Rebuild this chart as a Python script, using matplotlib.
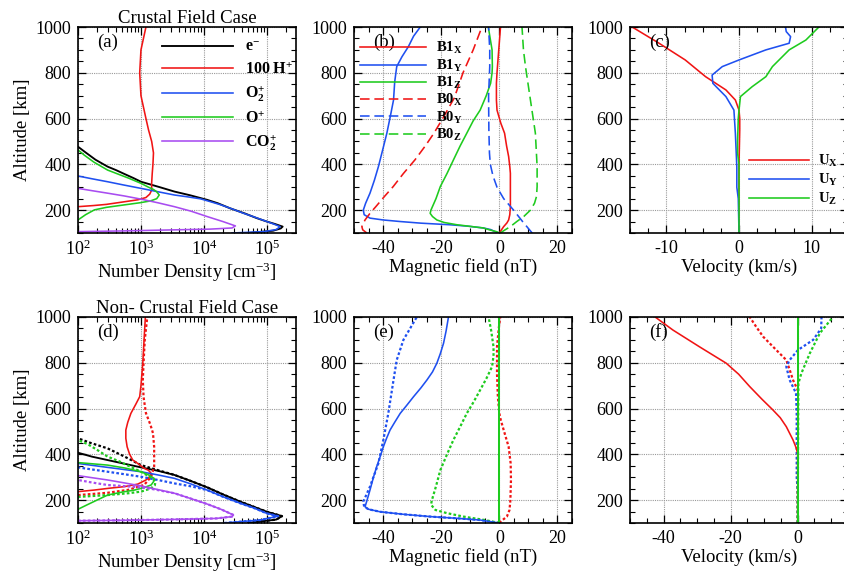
import matplotlib.pyplot as plt
from matplotlib.ticker import MultipleLocator

plt.rcParams['font.family'] = ['Liberation Serif', 'DejaVu Serif']
plt.rcParams['mathtext.fontset'] = 'custom'
plt.rcParams['mathtext.rm'] = 'Liberation Serif'
plt.rcParams['mathtext.it'] = 'Liberation Serif:italic'
plt.rcParams['mathtext.bf'] = 'Liberation Serif:bold'
plt.rcParams['axes.unicode_minus'] = False

# ---------------- (a) crustal field, densities [cm^-3] ----------------
ne_a_alt = [100, 110, 120, 128, 140, 150, 165, 185, 208, 230, 245, 265, 281, 300, 324, 340, 360, 375, 390, 420, 450, 477]
ne_a = [50000, 126000, 166000, 178000, 132000, 100000, 69000, 45000, 26000, 16600, 11200, 6000, 3400, 2000, 1000, 760, 525, 400, 295, 190, 135, 100]
h_a_alt = [215, 220, 225, 235, 245, 255, 270, 288, 320, 360, 400, 450, 500, 550, 600, 700, 800, 900, 1000]
h_a = [100, 178, 282, 501, 891, 1200, 1380, 1480, 1480, 1510, 1550, 1580, 1480, 1320, 1200, 1000, 955, 1000, 1200]
o2_a_alt = [100, 106, 115, 128, 140, 150, 170, 186, 205, 223, 237, 249, 258, 266, 281, 295, 310, 324, 337, 349]
o2_a = [28000, 89000, 141000, 162000, 126000, 100000, 63000, 42700, 28200, 18600, 12600, 8900, 5500, 3400, 1800, 1000, 525, 295, 166, 100]
op_a_alt = [157, 180, 201, 212, 223, 232, 240, 250, 266, 280, 290, 300, 317, 340, 375, 410, 440, 463]
op_a = [100, 132, 182, 282, 550, 955, 1410, 1780, 1950, 1780, 1585, 1320, 1000, 631, 295, 178, 126, 100]
co2_a_alt = [106, 109, 113, 117, 122, 131, 150, 172, 195, 215, 232, 248, 262, 274, 285, 295]
co2_a = [100, 500, 2500, 12600, 28000, 31600, 20000, 11200, 6300, 3400, 1860, 1000, 540, 295, 166, 100]

# ---------------- (d) non-crustal, solid and dotted ----------------
ne_d_alt = [100, 115, 130, 149, 170, 193, 225, 256, 285, 310, 328, 343, 360, 375, 390, 407]
ne_d = [50000, 141000, 174000, 100000, 63000, 38000, 20000, 11200, 6000, 3400, 1860, 1000, 525, 295, 166, 100]
ne_d2_alt = [100, 115, 130, 149, 170, 193, 225, 256, 285, 310, 330, 353, 390, 426, 450, 470]
ne_d2 = [50000, 141000, 174000, 100000, 63000, 38000, 20000, 11200, 6000, 3400, 1900, 1000, 550, 295, 158, 100]
h_d_alt = [237, 244, 252, 259, 270, 288, 300, 317, 330, 339, 360, 375, 400, 433, 470, 506, 540, 579, 620, 652, 700, 800, 900, 1000]
h_d = [100, 182, 316, 550, 891, 1200, 1350, 1450, 1320, 1120, 891, 741, 661, 603, 575, 575, 617, 692, 832, 955, 1000, 1070, 1120, 1175]
h_d2_alt = [222, 232, 245, 266, 302, 346, 375, 433, 493, 530, 580, 650, 725, 800, 900, 1000]
h_d2 = [100, 295, 631, 1120, 1450, 1620, 1620, 1620, 1550, 1410, 1200, 1100, 1070, 1100, 1150, 1260]
o2_d_alt = [100, 113, 130, 142, 165, 186, 215, 244, 270, 295, 310, 324, 343, 360]
o2_d = [21000, 79000, 151000, 100000, 63000, 38000, 20000, 11200, 6300, 3400, 1860, 1000, 295, 100]
o2_d2_alt = [100, 113, 130, 142, 165, 186, 215, 244, 260, 273, 288, 302, 313, 324, 334, 343]
o2_d2 = [21000, 79000, 151000, 100000, 63000, 38000, 20000, 11200, 6300, 3400, 1860, 1000, 550, 295, 166, 100]
op_d_alt = [160, 180, 200, 222, 235, 244, 255, 266, 280, 295, 310, 324, 340, 353, 364]
op_d = [100, 141, 200, 295, 500, 794, 1120, 1450, 1580, 1620, 1320, 1000, 562, 295, 100]
op_d2_alt = [214, 222, 230, 237, 250, 265, 280, 288, 300, 324, 350, 370, 390, 420, 445, 462]
op_d2 = [100, 295, 631, 1000, 1410, 1660, 1700, 1620, 1410, 1000, 631, 447, 295, 200, 141, 100]
co2_d_alt = [110, 112, 116, 120, 128, 135, 160, 183, 206, 230, 246, 262, 275, 288, 298, 307]
co2_d = [100, 631, 4000, 15800, 28000, 29500, 18600, 11200, 6300, 3400, 1860, 1000, 550, 295, 166, 100]
co2_d2_alt = [110, 112, 116, 120, 128, 135, 160, 183, 206, 230, 250, 258, 266, 277, 288]
co2_d2 = [100, 631, 4000, 15800, 28000, 29500, 18600, 11200, 6300, 3400, 1410, 794, 295, 166, 100]

# ---------------- (b) magnetic field [nT] ----------------
b1x_alt = [100, 106, 128, 144, 157, 180, 215, 245, 300, 361, 390, 434, 480, 536, 580, 637, 681, 754, 800, 900, 1000]
b1x = [0, 0.3, 1.5, 2.6, 3.2, 3.6, 3.8, 3.8, 3.8, 3.8, 3.6, 3.2, 2.5, 1.8, 0.5, -0.8, -1.0, -1.0, -0.8, -0.2, 0.4]
b1y_alt = [100, 106, 115, 122, 130, 136, 143, 150, 157, 165, 180, 200, 230, 274, 330, 390, 460, 536, 610, 681, 760, 827, 870, 914, 960, 1000]
b1y = [0, -1.5, -3, -5.5, -11, -17, -27, -34, -40, -44.5, -46.5, -46.8, -46, -44.5, -43, -41.6, -40.2, -38.7, -37.5, -36.4, -36, -35.3, -33.5, -31.3, -29.5, -27.2]
b1z_alt = [100, 106, 114, 122, 136, 146, 157, 172, 186, 201, 250, 303, 360, 419, 480, 536, 590, 637, 700, 754, 800, 827, 900, 1000]
b1z = [0, -1, -3.5, -5.5, -14.6, -19, -21.5, -23, -23.8, -23.5, -21.8, -20.3, -18, -15.8, -13.5, -11.2, -9, -6.6, -4.5, -3, -2.5, -2.4, -2.5, -3.8]
b0x_alt = [100, 114, 128, 157, 186, 215, 260, 303, 360, 420, 480, 536, 600, 690, 800, 900, 1000]
b0x = [-45.6, -47, -47.3, -46.2, -44.5, -42.5, -39.5, -36.5, -33, -29, -25.5, -22.5, -19.5, -15.5, -12.5, -9, -6]
b0y_alt = [100, 150, 200, 250, 300, 350, 400, 450, 550, 700, 827, 900, 1000]
b0y = [11.3, 8, 4.9, 1.5, -0.8, -2.2, -3.1, -3.4, -3.6, -3.7, -3.3, -3.3, -3.7]
b0z_alt = [100, 110, 128, 150, 172, 200, 230, 260, 303, 390, 536, 681, 827, 900, 1000]
b0z = [0.3, 1.5, 3.8, 6, 8.4, 10.7, 12.1, 12.8, 13, 13, 12.4, 10.7, 9, 8.3, 7.8]

# ---------------- (c) velocity [km/s] ----------------
ux_c_alt = [100, 400, 550, 600, 637, 681, 725, 783, 856, 929, 1000]
ux_c = [0, 0, 0.1, 0.1, 0, -0.5, -1.8, -4.6, -7.4, -11, -14.7]
uy_c_alt = [100, 250, 300, 390, 536, 637, 696, 754, 790, 827, 856, 900, 929, 958, 980, 1000]
uy_c = [0, -0.1, -0.3, -0.3, -0.5, -0.7, -1.8, -3.6, -3.7, -2.3, 0, 3.7, 6.9, 7.1, 6.5, 6.4]
uz_c_alt = [100, 400, 450, 500, 600, 637, 696, 739, 783, 827, 900, 943, 1000]
uz_c = [0, 0, -0.2, -0.2, -0.1, 0, 0.2, 1.8, 3.7, 4.6, 6.9, 9.2, 11]

# ---------------- (e) magnetic field, non-crustal ----------------
b1x_e_alt = [100, 1000]
b1x_e = [0, 0]
b1z_e_alt = [100, 1000]
b1z_e = [0, 0]
b1y_e_alt = [100, 106, 113, 120, 128, 138, 149, 160, 171, 200, 244, 300, 346, 390, 433, 470, 506, 540, 579, 615, 652, 690, 725, 760, 798, 840, 885, 940, 1000]
b1y_e = [0, -3, -6.6, -14, -23.8, -33, -41, -45, -46.2, -45.5, -44.5, -43.3, -42.2, -41, -39.9, -38.8, -37.6, -36, -34.1, -31.8, -29.5, -27, -24.9, -23, -21.5, -20.3, -19.2, -18.3, -17.5]
b0x_e_alt = [100, 113, 128, 157, 200, 288, 360, 433, 506, 550, 579, 650, 750, 870, 950, 1000]
b0x_e = [0, 1.1, 2.6, 3.5, 3.8, 4.0, 3.9, 3.2, 1.5, 0.5, 0, -0.5, -0.8, -0.8, -0.2, 0.3]
b0y_e_alt = [100, 106, 113, 120, 128, 138, 149, 160, 171, 193, 259, 361, 463, 579, 725, 812, 900, 1000]
b0y_e = [0, -3, -6.6, -14, -23.8, -33, -41, -45, -46.5, -46.8, -44.5, -41.6, -39.9, -38.2, -36.4, -35.3, -33, -28.4]
b0z_e_alt = [100, 113, 128, 143, 157, 180, 200, 260, 331, 400, 463, 520, 579, 630, 681, 730, 783, 830, 870, 940, 1000]
b0z_e = [0, -5, -12.3, -18, -22, -23.5, -23.2, -21.8, -20.3, -18, -15.8, -13.5, -11.2, -8.8, -6.6, -4.5, -2.5, -2, -2, -2.8, -3.7]

# ---------------- (f) velocity, non-crustal ----------------
ux_f_alt = [100, 404, 430, 463, 521, 560, 594, 640, 696, 750, 798, 870, 943, 1000]
ux_f = [0, 0, -0.5, -1.4, -3.4, -5.2, -7.4, -10.6, -14.3, -17.6, -21.3, -29.3, -37.2, -42.5]
uy_f_alt = [100, 1000]
uy_f = [0, 0]
uz_f_alt = [100, 1000]
uz_f = [0, 0]
ux_f2_alt = [100, 681, 725, 770, 812, 856, 914, 960, 1000]
ux_f2 = [0, 0, -1.4, -2.4, -3.4, -6.4, -10.3, -12.5, -14.3]
uy_f2_alt = [100, 240, 300, 579, 667, 725, 783, 812, 856, 900, 950, 1000]
uy_f2 = [0, 0, -0.3, -0.3, -0.5, -2.4, -3.4, -2.4, 0.1, 4.6, 7, 7.1]
uz_f2_alt = [100, 710, 754, 841, 929, 1000]
uz_f2 = [0, 0.2, 1.1, 3.6, 6.6, 10.5]

RED = '#f01414'
BLUE = '#1f50f0'
GREEN = '#1ecb1e'
PURPLE = '#a84cf0'
LW = 1.15
DASH = (0, (6, 3))
DOT = (0, (1.2, 1.0))
DOT_LW = 1.6
FS = 13.5

W, H = 845, 573
fig = plt.figure(figsize=(W / 100, H / 100), dpi=100)


def make_axes(left_px, top_px):
    return fig.add_axes([left_px / W, 1 - (top_px + 206) / H, 218 / W, 206 / H])


def style(ax, panel, xlabel, ylabel=None):
    ax.set_ylim(100, 1000)
    ax.yaxis.set_major_locator(MultipleLocator(200))
    ax.yaxis.set_minor_locator(MultipleLocator(50))
    ax.tick_params(which='both', direction='in', top=True, right=True, labelsize=13, pad=5)
    ax.tick_params(which='major', length=6, width=0.9)
    ax.tick_params(which='minor', length=3.5, width=0.8)
    ax.grid(True, which='major', color='#9a9a9a', linestyle=(0, (1, 1)), linewidth=0.8)
    for s in ax.spines.values():
        s.set_linewidth(1.2)
    ax.set_xlabel(xlabel, fontsize=FS, labelpad=1)
    if ylabel:
        ax.set_ylabel(ylabel, fontsize=FS, labelpad=3)
    ax.text(0.087, 0.925, panel, transform=ax.transAxes, fontsize=FS, va='center', ha='left')


ax_a = make_axes(78, 27)
ax_b = make_axes(354, 27)
ax_c = make_axes(630, 27)
ax_d = make_axes(78, 317)
ax_e = make_axes(354, 317)
ax_f = make_axes(630, 317)

# (a)
ax_a.plot(ne_a, ne_a_alt, color='black', lw=LW + 0.2, label=r'$\mathbf{e^{-}}$')
ax_a.plot(h_a, h_a_alt, color=RED, lw=LW, label=r'$\mathbf{100\ H^{+}}$')
ax_a.plot(o2_a, o2_a_alt, color=BLUE, lw=LW, label=r'$\mathbf{O_2^{+}}$')
ax_a.plot(op_a, op_a_alt, color=GREEN, lw=LW, label=r'$\mathbf{O^{+}}$')
ax_a.plot(co2_a, co2_a_alt, color=PURPLE, lw=LW, label=r'$\mathbf{CO_2^{+}}$')
ax_a.set_xscale('log')
ax_a.set_xlim(100, 2.9e5)
style(ax_a, '(a)', r'Number Density [cm$^{-3}$]', 'Altitude [km]')
ax_a.set_title('Crustal Field Case', fontsize=FS, pad=3)
ax_a.legend(loc='upper left', bbox_to_anchor=(0.385, 0.94), frameon=False, borderpad=0, borderaxespad=0,
            handlelength=4.45, handletextpad=0.78, labelspacing=0.36, prop={'size': 11.5, 'weight': 'bold'})

# (d)
for vals, alt, vals2, alt2, col, lw in [
        (ne_d, ne_d_alt, ne_d2, ne_d2_alt, 'black', LW + 0.2),
        (h_d, h_d_alt, h_d2, h_d2_alt, RED, LW),
        (o2_d, o2_d_alt, o2_d2, o2_d2_alt, BLUE, LW),
        (op_d, op_d_alt, op_d2, op_d2_alt, GREEN, LW),
        (co2_d, co2_d_alt, co2_d2, co2_d2_alt, PURPLE, LW)]:
    ax_d.plot(vals2, alt2, color=col, lw=DOT_LW, linestyle=DOT)
    ax_d.plot(vals, alt, color=col, lw=lw)
ax_d.set_xscale('log')
ax_d.set_xlim(100, 2.9e5)
style(ax_d, '(d)', r'Number Density [cm$^{-3}$]', 'Altitude [km]')
ax_d.set_title('Non- Crustal Field Case', fontsize=FS, pad=3)

# (b)
ax_b.plot(b1x, b1x_alt, color=RED, lw=LW, label=r'$\mathbf{B1_X}$')
ax_b.plot(b1y, b1y_alt, color=BLUE, lw=LW, label=r'$\mathbf{B1_Y}$')
ax_b.plot(b1z, b1z_alt, color=GREEN, lw=LW, label=r'$\mathbf{B1_Z}$')
ax_b.plot(b0x, b0x_alt, color=RED, lw=LW, linestyle=DASH, label=r'$\mathbf{B0_X}$')
ax_b.plot(b0y, b0y_alt, color=BLUE, lw=LW, linestyle=DASH, label=r'$\mathbf{B0_Y}$')
ax_b.plot(b0z, b0z_alt, color=GREEN, lw=LW, linestyle=DASH, label=r'$\mathbf{B0_Z}$')
ax_b.set_xlim(-50, 25)
ax_b.xaxis.set_major_locator(MultipleLocator(20))
ax_b.xaxis.set_minor_locator(MultipleLocator(5))
style(ax_b, '(b)', 'Magnetic field (nT)')
ax_b.legend(loc='upper left', bbox_to_anchor=(0.028, 0.935), frameon=False, borderpad=0, borderaxespad=0,
            handlelength=4.5, handletextpad=0.7, labelspacing=0.08, prop={'size': 10.5, 'weight': 'bold'})

# (e)
ax_e.plot(b0x_e, b0x_e_alt, color=RED, lw=DOT_LW, linestyle=DOT)
ax_e.plot(b0y_e, b0y_e_alt, color=BLUE, lw=DOT_LW, linestyle=DOT)
ax_e.plot(b0z_e, b0z_e_alt, color=GREEN, lw=DOT_LW, linestyle=DOT)
ax_e.plot(b1x_e, b1x_e_alt, color=RED, lw=LW)
ax_e.plot(b1y_e, b1y_e_alt, color=BLUE, lw=LW)
ax_e.plot(b1z_e, b1z_e_alt, color=GREEN, lw=LW + 0.3)
ax_e.set_xlim(-50, 25)
ax_e.xaxis.set_major_locator(MultipleLocator(20))
ax_e.xaxis.set_minor_locator(MultipleLocator(5))
style(ax_e, '(e)', 'Magnetic field (nT)')

# (c)
ax_c.plot(ux_c, ux_c_alt, color=RED, lw=LW, label=r'$\mathbf{U_X}$')
ax_c.plot(uy_c, uy_c_alt, color=BLUE, lw=LW, label=r'$\mathbf{U_Y}$')
ax_c.plot(uz_c, uz_c_alt, color=GREEN, lw=LW, label=r'$\mathbf{U_Z}$')
ax_c.set_xlim(-15, 15)
ax_c.xaxis.set_major_locator(MultipleLocator(10))
ax_c.xaxis.set_minor_locator(MultipleLocator(2.5))
style(ax_c, '(c)', 'Velocity (km/s)')
ax_c.legend(loc='upper left', bbox_to_anchor=(0.546, 0.39), frameon=False, borderpad=0, borderaxespad=0,
            handlelength=4.1, handletextpad=0.6, labelspacing=0.2, prop={'size': 10.5, 'weight': 'bold'})

# (f)
ax_f.plot(ux_f2, ux_f2_alt, color=RED, lw=DOT_LW, linestyle=DOT)
ax_f.plot(uy_f2, uy_f2_alt, color=BLUE, lw=DOT_LW, linestyle=DOT)
ax_f.plot(uz_f2, uz_f2_alt, color=GREEN, lw=DOT_LW, linestyle=DOT)
ax_f.plot(ux_f, ux_f_alt, color=RED, lw=LW)
ax_f.plot(uy_f, uy_f_alt, color=BLUE, lw=LW)
ax_f.plot(uz_f, uz_f_alt, color=GREEN, lw=LW + 0.3)
ax_f.set_xlim(-50, 15)
ax_f.xaxis.set_major_locator(MultipleLocator(20))
ax_f.xaxis.set_minor_locator(MultipleLocator(5))
style(ax_f, '(f)', 'Velocity (km/s)')

fig.savefig('out.png', dpi=100)
